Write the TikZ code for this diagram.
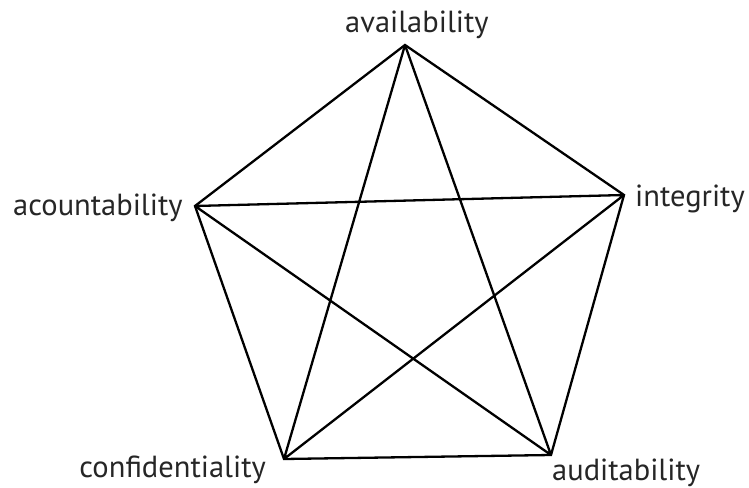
\documentclass[tikz,border=0pt]{standalone}
\usepackage{fontspec}
\setmainfont{PT Sans}
\begin{document}
\begin{tikzpicture}[x=1pt,y=-1pt,
  edge/.style={line width=2.3pt,line join=miter},
  lab/.style={font=\fontsize{30.5}{34}\selectfont,inner sep=0pt,anchor=base west,text=black!85}]
\useasboundingbox (0,0) rectangle (749,487);
\coordinate (av) at (405,45);
\coordinate (in) at (624,195);
\coordinate (ac) at (195,206);
\coordinate (co) at (284,459);
\coordinate (au) at (551,455);
\draw[edge] (av) -- (in) -- (au) -- (co) -- (ac) -- cycle;
\draw[edge] (av) -- (co) (av) -- (au) (ac) -- (in) (ac) -- (au) (in) -- (co);
\node[lab] (tav) at (345,33) {availability};
\node[lab] (tin) at (635,206) {integrity};
\node[lab] (tac) at (13,215) {acountability};
\node[lab,anchor=base east] (tco) at (266,477) {confidentiality};
\node[lab] (tau) at (552,480) {auditability};
\end{tikzpicture}
\end{document}
